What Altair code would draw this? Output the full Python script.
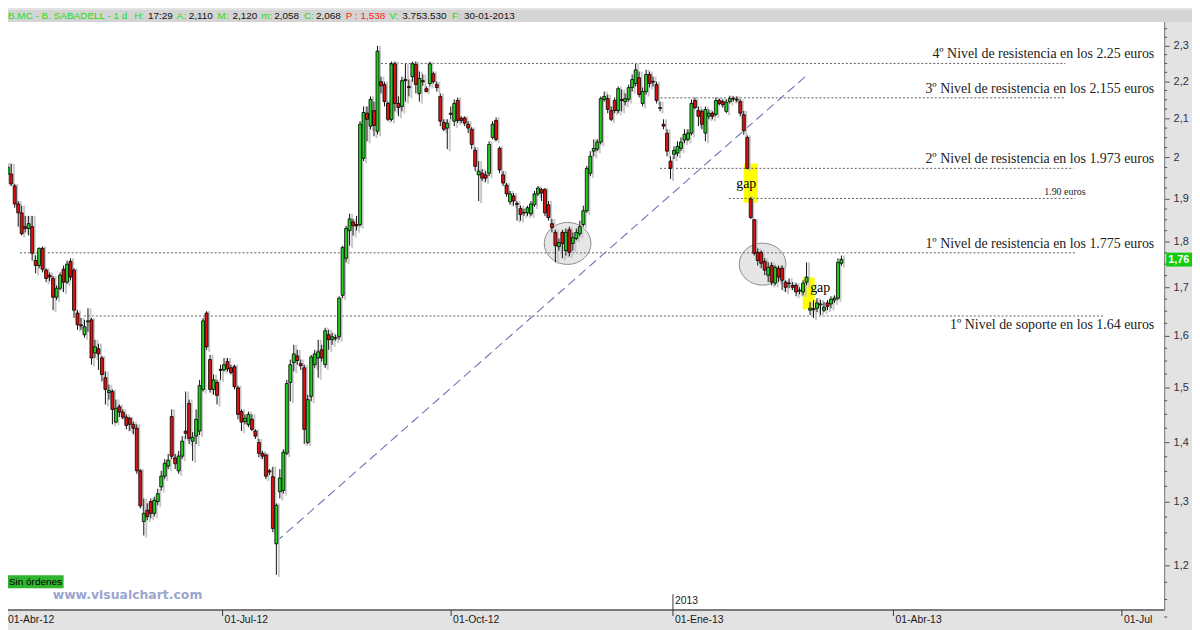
import altair as alt
import pandas as pd

# ---------------- data ----------------
open_ = [1.959, 1.959, 1.930, 1.887, 1.866, 1.834, 1.830, 1.834, 1.758, 1.747,
         1.785, 1.737, 1.726, 1.719, 1.679, 1.698, 1.739, 1.711, 1.756, 1.737,
         1.646, 1.622, 1.602, 1.628, 1.632, 1.566, 1.574, 1.556, 1.518, 1.490,
         1.492, 1.436, 1.464, 1.454, 1.445, 1.443, 1.432, 1.425, 1.351, 1.268,
         1.286, 1.300, 1.281, 1.300, 1.324, 1.342, 1.359, 1.446, 1.373, 1.351,
         1.376, 1.420, 1.470, 1.402, 1.411, 1.420, 1.496, 1.646, 1.553, 1.496,
         1.509, 1.534, 1.533, 1.549, 1.537, 1.539, 1.499, 1.455, 1.437, 1.432,
         1.441, 1.420, 1.400, 1.381, 1.378, 1.351, 1.341, 1.233, 1.316, 1.318,
         1.381, 1.509, 1.547, 1.560, 1.545, 1.537, 1.400, 1.483, 1.543, 1.556,
         1.572, 1.543, 1.602, 1.592, 1.596, 1.598, 1.683, 1.763, 1.825, 1.845,
         1.839, 1.839, 1.998, 2.114, 2.080, 2.121, 2.067, 2.199, 2.191, 2.140,
         2.098, 2.249, 2.140, 2.132, 2.205, 2.186, 2.213, 2.247, 2.167, 2.202,
         2.180, 2.194, 2.221, 2.191, 2.159, 2.090, 2.075, 2.114, 2.093, 2.148,
         2.101, 2.101, 2.085, 2.072, 2.018, 1.957, 1.961, 1.957, 1.961, 2.051,
         2.095, 2.023, 1.957, 1.932, 1.892, 1.906, 1.888, 1.876, 1.867, 1.866,
         1.864, 1.885, 1.911, 1.921, 1.921, 1.885, 1.841, 1.821, 1.789, 1.821,
         1.780, 1.827, 1.796, 1.807, 1.818, 1.839, 1.871, 1.961, 2.016, 2.021,
         2.039, 2.151, 2.153, 2.121, 2.148, 2.121, 2.151, 2.145, 2.151, 2.183,
         2.194, 2.210, 2.140, 2.172, 2.219, 2.200, 2.191, 2.129, 2.085, 2.062,
         1.991, 2.008, 2.011, 2.023, 2.044, 2.046, 2.062, 2.148, 2.121, 2.119,
         2.062, 2.106, 2.114, 2.111, 2.148, 2.145, 2.119, 2.145, 2.154, 2.151,
         2.145, 2.110, 2.051, 1.899, 1.850, 1.776, 1.776, 1.756, 1.726, 1.747,
         1.709, 1.741, 1.741, 1.711, 1.709, 1.704, 1.704, 1.692, 1.690, 1.711,
         1.652, 1.655, 1.656, 1.663, 1.652, 1.667, 1.665, 1.673, 1.677, 1.752]
high = [1.986, 1.984, 1.935, 1.894, 1.883, 1.859, 1.859, 1.859, 1.769, 1.787,
        1.789, 1.741, 1.732, 1.724, 1.704, 1.732, 1.747, 1.758, 1.763, 1.741,
        1.652, 1.636, 1.632, 1.656, 1.636, 1.592, 1.584, 1.560, 1.530, 1.505,
        1.496, 1.477, 1.468, 1.459, 1.450, 1.445, 1.437, 1.432, 1.354, 1.305,
        1.297, 1.305, 1.308, 1.321, 1.351, 1.371, 1.380, 1.459, 1.380, 1.385,
        1.411, 1.492, 1.477, 1.418, 1.459, 1.514, 1.636, 1.650, 1.562, 1.524,
        1.514, 1.543, 1.556, 1.556, 1.543, 1.543, 1.503, 1.459, 1.450, 1.455,
        1.450, 1.423, 1.406, 1.385, 1.381, 1.354, 1.358, 1.297, 1.354, 1.388,
        1.514, 1.553, 1.582, 1.572, 1.553, 1.543, 1.486, 1.562, 1.572, 1.592,
        1.582, 1.616, 1.612, 1.606, 1.602, 1.681, 1.791, 1.836, 1.864, 1.852,
        1.859, 2.093, 2.132, 2.132, 2.159, 2.145, 2.300, 2.213, 2.199, 2.145,
        2.255, 2.255, 2.159, 2.213, 2.249, 2.205, 2.255, 2.255, 2.227, 2.219,
        2.186, 2.255, 2.227, 2.199, 2.167, 2.098, 2.098, 2.132, 2.151, 2.156,
        2.106, 2.106, 2.093, 2.077, 2.026, 1.991, 1.971, 1.966, 2.041, 2.093,
        2.103, 2.028, 1.966, 1.937, 1.918, 1.913, 1.894, 1.883, 1.876, 1.883,
        1.894, 1.918, 1.930, 1.925, 1.925, 1.894, 1.852, 1.827, 1.807, 1.827,
        1.830, 1.834, 1.821, 1.830, 1.848, 1.883, 1.979, 2.016, 2.046, 2.046,
        2.159, 2.172, 2.164, 2.132, 2.156, 2.186, 2.178, 2.167, 2.191, 2.219,
        2.249, 2.227, 2.183, 2.232, 2.227, 2.213, 2.199, 2.145, 2.098, 2.072,
        2.003, 2.028, 2.041, 2.051, 2.072, 2.072, 2.151, 2.156, 2.132, 2.124,
        2.132, 2.124, 2.119, 2.156, 2.153, 2.151, 2.151, 2.161, 2.159, 2.159,
        2.151, 2.120, 2.056, 1.904, 1.852, 1.785, 1.780, 1.763, 1.754, 1.754,
        1.747, 1.747, 1.747, 1.715, 1.719, 1.711, 1.709, 1.700, 1.715, 1.754,
        1.669, 1.673, 1.677, 1.673, 1.669, 1.673, 1.681, 1.683, 1.763, 1.769]
low = [1.935, 1.930, 1.878, 1.834, 1.814, 1.821, 1.814, 1.758, 1.730, 1.741,
       1.732, 1.711, 1.713, 1.652, 1.673, 1.694, 1.690, 1.707, 1.715, 1.636,
       1.612, 1.612, 1.596, 1.608, 1.543, 1.556, 1.533, 1.511, 1.468, 1.477,
       1.432, 1.434, 1.445, 1.441, 1.423, 1.420, 1.414, 1.346, 1.289, 1.246,
       1.270, 1.273, 1.276, 1.294, 1.318, 1.337, 1.354, 1.371, 1.354, 1.346,
       1.371, 1.406, 1.397, 1.368, 1.397, 1.413, 1.492, 1.572, 1.490, 1.486,
       1.468, 1.514, 1.530, 1.530, 1.524, 1.496, 1.441, 1.420, 1.432, 1.427,
       1.420, 1.406, 1.374, 1.371, 1.337, 1.344, 1.251, 1.186, 1.305, 1.313,
       1.378, 1.474, 1.530, 1.543, 1.533, 1.397, 1.397, 1.474, 1.537, 1.518,
       1.549, 1.537, 1.572, 1.582, 1.590, 1.592, 1.677, 1.754, 1.791, 1.814,
       1.825, 1.834, 1.991, 2.041, 2.072, 2.054, 2.059, 2.167, 2.132, 2.093,
       2.093, 2.119, 2.106, 2.119, 2.145, 2.159, 2.199, 2.167, 2.145, 2.188,
       2.170, 2.186, 2.194, 2.172, 2.080, 2.067, 2.021, 2.098, 2.080, 2.088,
       2.088, 2.080, 2.062, 2.021, 1.966, 1.894, 1.942, 1.940, 1.954, 2.046,
       2.041, 1.961, 1.930, 1.904, 1.885, 1.883, 1.848, 1.848, 1.859, 1.859,
       1.859, 1.880, 1.906, 1.894, 1.859, 1.848, 1.821, 1.754, 1.780, 1.763,
       1.769, 1.767, 1.780, 1.803, 1.812, 1.834, 1.866, 1.954, 2.003, 2.016,
       2.033, 2.145, 2.114, 2.093, 2.114, 2.114, 2.119, 2.135, 2.145, 2.172,
       2.186, 2.156, 2.132, 2.164, 2.183, 2.186, 2.140, 2.119, 2.072, 2.003,
       1.947, 1.996, 2.003, 2.016, 2.036, 2.041, 2.056, 2.124, 2.080, 2.072,
       2.041, 2.098, 2.098, 2.106, 2.135, 2.129, 2.114, 2.140, 2.145, 2.143,
       2.106, 2.058, 1.971, 1.852, 1.769, 1.747, 1.741, 1.726, 1.711, 1.704,
       1.704, 1.711, 1.694, 1.690, 1.698, 1.694, 1.681, 1.685, 1.683, 1.704,
       1.642, 1.636, 1.648, 1.642, 1.648, 1.652, 1.656, 1.667, 1.673, 1.747]
close = [1.976, 1.935, 1.887, 1.866, 1.818, 1.830, 1.841, 1.774, 1.747, 1.785,
         1.739, 1.719, 1.722, 1.679, 1.698, 1.726, 1.711, 1.750, 1.722, 1.652,
         1.622, 1.620, 1.618, 1.630, 1.556, 1.578, 1.564, 1.524, 1.496, 1.494,
         1.459, 1.461, 1.454, 1.445, 1.430, 1.432, 1.425, 1.351, 1.293, 1.281,
         1.276, 1.281, 1.302, 1.313, 1.342, 1.364, 1.369, 1.376, 1.363, 1.376,
         1.402, 1.416, 1.407, 1.409, 1.441, 1.503, 1.630, 1.578, 1.496, 1.514,
         1.485, 1.532, 1.543, 1.535, 1.528, 1.501, 1.450, 1.436, 1.443, 1.450,
         1.423, 1.411, 1.381, 1.376, 1.342, 1.349, 1.257, 1.294, 1.339, 1.383,
         1.507, 1.543, 1.564, 1.551, 1.541, 1.423, 1.477, 1.558, 1.564, 1.568,
         1.556, 1.610, 1.592, 1.598, 1.595, 1.677, 1.787, 1.830, 1.852, 1.836,
         1.836, 2.085, 2.116, 2.098, 2.151, 2.082, 2.285, 2.188, 2.145, 2.098,
         2.249, 2.140, 2.129, 2.202, 2.202, 2.183, 2.249, 2.191, 2.208, 2.199,
         2.172, 2.249, 2.199, 2.183, 2.093, 2.072, 2.088, 2.111, 2.140, 2.095,
         2.095, 2.088, 2.075, 2.033, 1.978, 1.966, 1.949, 1.949, 2.033, 2.085,
         2.046, 1.969, 1.937, 1.911, 1.911, 1.894, 1.886, 1.862, 1.866, 1.878,
         1.887, 1.911, 1.925, 1.913, 1.866, 1.855, 1.832, 1.791, 1.798, 1.796,
         1.821, 1.776, 1.809, 1.821, 1.834, 1.871, 1.973, 2.003, 2.023, 2.039,
         2.153, 2.159, 2.124, 2.098, 2.121, 2.180, 2.148, 2.153, 2.183, 2.205,
         2.232, 2.164, 2.172, 2.219, 2.194, 2.198, 2.148, 2.127, 2.080, 2.016,
         1.973, 2.018, 2.028, 2.039, 2.059, 2.062, 2.140, 2.129, 2.106, 2.085,
         2.124, 2.114, 2.106, 2.148, 2.140, 2.137, 2.143, 2.153, 2.152, 2.149,
         2.114, 2.068, 1.973, 1.855, 1.774, 1.758, 1.752, 1.737, 1.743, 1.711,
         1.743, 1.722, 1.715, 1.700, 1.708, 1.700, 1.690, 1.694, 1.709, 1.722,
         1.656, 1.653, 1.667, 1.665, 1.658, 1.660, 1.675, 1.677, 1.754, 1.760]
bar_index = list(range(len(close)))

level_price = [2.25, 2.155, 1.973, 1.90, 1.775, 1.64]
level_start = [107.0, 186.0, 187.0, 206.7, 3.5, 21.8]
level_end = [303.2, 303.2, 305.6, 306.0, 306.1, 314.5]
level_text = ["4º Nivel de resistencia en los 2.25 euros",
              "3º Nivel de resistencia en los 2.155 euros",
              "2º Nivel de resistencia en los 1.973 euros",
              "1.90 euros",
              "1º Nivel de resistencia en los 1.775 euros",
              "1º Nivel de soporte en los 1.64 euros"]

trend_index = [76.9, 229.3]
trend_price = [1.236, 2.219]

ellipse_index = [160.5, 216.4]
ellipse_price = [1.796, 1.750]

gap_start = [211.0, 227.9]
gap_end = [215.0, 231.3]
gap_low = [1.890, 1.654]
gap_high = [1.985, 1.721]
gap_label_index = [211.7, 232.9]
gap_label_price = [1.935, 1.699]

date_tick_index = [-0.2, 61.6, 127.1, 190.7, 253.9, 319.4]
date_tick_label = ["01-Abr-12", "01-Jul-12", "01-Oct-12", "01-Ene-13", "01-Abr-13", "01-Jul"]
year_tick_index = [190.7]
year_tick_label = ["2013"]

price_ticks = [1.2, 1.3, 1.4, 1.5, 1.6, 1.7, 1.8, 1.9, 2.0, 2.1, 2.2, 2.3]

# ---------------- layout / style ----------------
W, H = 1164, 604
GREEN = "#22cc22"
RED = "#dd1111"
SERIF = "Liberation Serif"
SANS = "Liberation Sans"

xs = alt.Scale(domain=[1.496, 330.1], nice=False, zero=False)
ys = alt.Scale(type="log", domain=[1.1349, 2.4054], nice=False)
YAXIS = alt.Axis(orient="right", values=price_ticks, title=None, grid=False,
                 labelExpr="replace(format(datum.value, '.1~f'), '.', ',')",
                 tickSize=5, tickColor="#555555", domainColor="#777777",
                 labelColor="#2e2e40", labelFont=SANS, labelFontSize=11,
                 labelPadding=4, labelOverlap=False)

candles = pd.DataFrame({"i": bar_index, "o": open_, "h": high, "l": low, "c": close})
levels = pd.DataFrame({"p": level_price, "a": level_start, "b": level_end, "t": level_text})
trend = pd.DataFrame({"i": trend_index, "p": trend_price, "k": [0, 1]})
ell = pd.DataFrame({"i": ellipse_index, "p": ellipse_price})
gaps = pd.DataFrame({"a": gap_start, "b": gap_end, "lo": gap_low, "hi": gap_high})
gap_lbl = pd.DataFrame({"i": gap_label_index, "p": gap_label_price, "t": ["gap", "gap"]})
dticks = pd.DataFrame({"i": date_tick_index, "t": date_tick_label})
yticks = pd.DataFrame({"i": year_tick_index, "t": year_tick_label})
minor = pd.DataFrame({"p": [round(t + k * 0.025, 3) for t in [1.1] + price_ticks for k in (1, 2, 3)]})
last = pd.DataFrame({"p": [close[-1]], "t": [f"{close[-1]:.2f}".replace(".", ",")]})


def X(f):
    return alt.X(f, type="quantitative", scale=xs, axis=None)


def Y(f):
    return alt.Y(f, type="quantitative", scale=ys, axis=YAXIS)


layers = []

bodies = (alt.Chart(candles).mark_bar(size=3, stroke="#000000", strokeWidth=0.8)
          .encode(x=X("i"), y=Y("o"), y2="c",
                  color=alt.condition("datum.c >= datum.o", alt.value(GREEN), alt.value(RED))))

# ellipses (behind candles)
ELL = "M -1 0 A 1 0.9 0 1 1 1 0 A 1 0.9 0 1 1 -1 0 Z"
layers.append(alt.Chart(ell).mark_point(shape=ELL, size=2209, filled=True, color="#d6d6d6",
                                        fillOpacity=0.6, stroke="#8c8c8c", strokeWidth=1, strokeOpacity=1)
              .encode(x=X("i"), y=Y("p")))
# yellow gap boxes
layers.append(alt.Chart(gaps).mark_rect(color="#ffff00")
              .encode(x=X("a"), x2="b", y=Y("lo"), y2="hi"))
# dashed level lines
layers.append(alt.Chart(levels).mark_rule(color="#606060", strokeDash=[2, 2], strokeWidth=1)
              .encode(x=X("a"), x2="b", y=Y("p")))
# trend line
layers.append(alt.Chart(trend).mark_line(color="#6a74b8", strokeDash=[9, 5], strokeWidth=1.1)
              .encode(x=X("i"), y=Y("p"), order="k:Q"))
# candle shadow
layers.append(alt.Chart(candles).mark_rule(color="#c8c8c8", strokeWidth=2, xOffset=2.5, yOffset=2)
              .encode(x=X("i"), y=Y("l"), y2="h"))
# wicks
layers.append(alt.Chart(candles).mark_rule(color="#111111", strokeWidth=1)
              .encode(x=X("i"), y=Y("l"), y2="h"))
layers.append(bodies)
# minor price ticks
layers.append(alt.Chart(minor).mark_rule(color="#555555")
              .encode(x=alt.value(W), x2=alt.value(W + 3), y=Y("p")))
# gap labels
layers.append(alt.Chart(gap_lbl).mark_text(font=SERIF, fontSize=14, color="#000000")
              .encode(x=X("i"), y=Y("p"), text="t"))
# level texts
big = levels[~levels["t"].str.startswith("1.90") & ~levels["t"].str.contains("soporte")]
layers.append(alt.Chart(big).mark_text(font=SERIF, fontSize=14, color="#222222", align="right",
                                       baseline="alphabetic", dy=-5)
              .encode(x=alt.value(1154), y=Y("p"), text="t"))
layers.append(alt.Chart(levels[levels["t"].str.contains("soporte")])
              .mark_text(font=SERIF, fontSize=14, color="#222222", align="right",
                         baseline="alphabetic", dy=13)
              .encode(x=alt.value(1154), y=Y("p"), text="t"))
layers.append(alt.Chart(levels[levels["t"].str.startswith("1.90")])
              .mark_text(font=SERIF, fontSize=10, color="#222222", align="center",
                         baseline="alphabetic", dy=-3)
              .encode(x=alt.value(1064), y=Y("p"), text="t"))

# bottom axis
layers.append(alt.Chart(dticks).mark_rule(color="#7a7a7a")
              .encode(x=alt.value(0), x2=alt.value(W), y=alt.value(H)))
layers.append(alt.Chart(dticks).mark_rule(color="#333333")
              .encode(x=X("i"), y=alt.value(H), y2=alt.value(H + 6)))
layers.append(alt.Chart(dticks[dticks["i"] > 1.5]).mark_text(font=SANS, fontSize=10.5, color="#1a1a1a",
                                                             align="left", baseline="middle", dx=2)
              .encode(x=X("i"), y=alt.value(H + 10), text="t"))
layers.append(alt.Chart(dticks[dticks["i"] <= 1.5]).mark_text(font=SANS, fontSize=10.5, color="#1a1a1a",
                                                              align="left", baseline="middle")
              .encode(x=alt.value(0), y=alt.value(H + 10), text="t"))
layers.append(alt.Chart(yticks).mark_rule(color="#333333")
              .encode(x=X("i"), y=alt.value(H - 16), y2=alt.value(H)))
layers.append(alt.Chart(yticks).mark_text(font=SANS, fontSize=10.5, color="#1a1a1a",
                                          align="left", baseline="middle", dx=2)
              .encode(x=X("i"), y=alt.value(H - 9), text="t"))

# last price marker
BOX = "M -1 -0.54 L 1 -0.54 L 1 0.54 L -1 0.54 Z"
layers.append(alt.Chart(last).mark_point(shape=BOX, size=676, filled=True, color="#11cc11", opacity=1)
              .encode(x=alt.value(W + 15), y=Y("p")))
layers.append(alt.Chart(last).mark_text(font=SANS, fontSize=11, fontWeight="bold", color="#ffffff",
                                        align="left", baseline="middle")
              .encode(x=alt.value(W + 4), y=Y("p"), text="t"))

# header bar
layers.append(alt.Chart(last).mark_rect(color="#d4d4d4")
              .encode(x=alt.value(0), x2=alt.value(W + 28), y=alt.value(0), y2=alt.value(12)))
fmt = lambda v: f"{v:.3f}".replace(".", ",")
k = 211  # 30-01-2013
header = [("B.MC - B. SABADELL - 1 d", 0, "#22dd22"), ("H:", 127, "#22dd22"), ("17:29", 141, "#111111"),
          ("A:", 170, "#22dd22"), (fmt(open_[k]), 182, "#111111"), ("M:", 211, "#22dd22"),
          (fmt(high[k]), 226, "#111111"), ("m:", 255, "#22dd22"), (fmt(low[k]), 268, "#111111"),
          ("C:", 298, "#22dd22"), (fmt(close[k]), 310, "#111111"), ("P : 1,538", 340, "#ff2222"),
          ("V:", 384, "#22dd22"), ("3.753.530", 397, "#111111"), ("F:", 447, "#22dd22"),
          ("30-01-2013", 459, "#111111")]
for txt, px, col in header:
    layers.append(alt.Chart(last).mark_text(text=txt, font=SANS, fontSize=10, color=col,
                                            align="left", baseline="middle")
                  .encode(x=alt.value(px), y=alt.value(6)))

# "Sin órdenes" box and watermark
layers.append(alt.Chart(last).mark_rect(color="#2fb52f")
              .encode(x=alt.value(0), x2=alt.value(56), y=alt.value(569), y2=alt.value(582)))
layers.append(alt.Chart(last).mark_text(text="Sin órdenes", font=SANS, fontSize=10, color="#000000",
                                        align="left", baseline="middle")
              .encode(x=alt.value(1), y=alt.value(576)))
layers.append(alt.Chart(last).mark_text(text="www.visualchart.com", font="DejaVu Sans", fontSize=12.5,
                                        fontWeight="bold", color="#9aa6d0", align="left", baseline="middle")
              .encode(x=alt.value(45), y=alt.value(589)))

chart = (alt.layer(*layers)
         .properties(width=W, height=H, autosize="none",
                     padding={"left": 0, "top": 0, "right": 28, "bottom": 18},
                     background="#e3e3e3")
         .configure_view(fill="#ffffff", stroke=None))

chart.save("out.html", embed_options={"renderer": "svg", "actions": False})
